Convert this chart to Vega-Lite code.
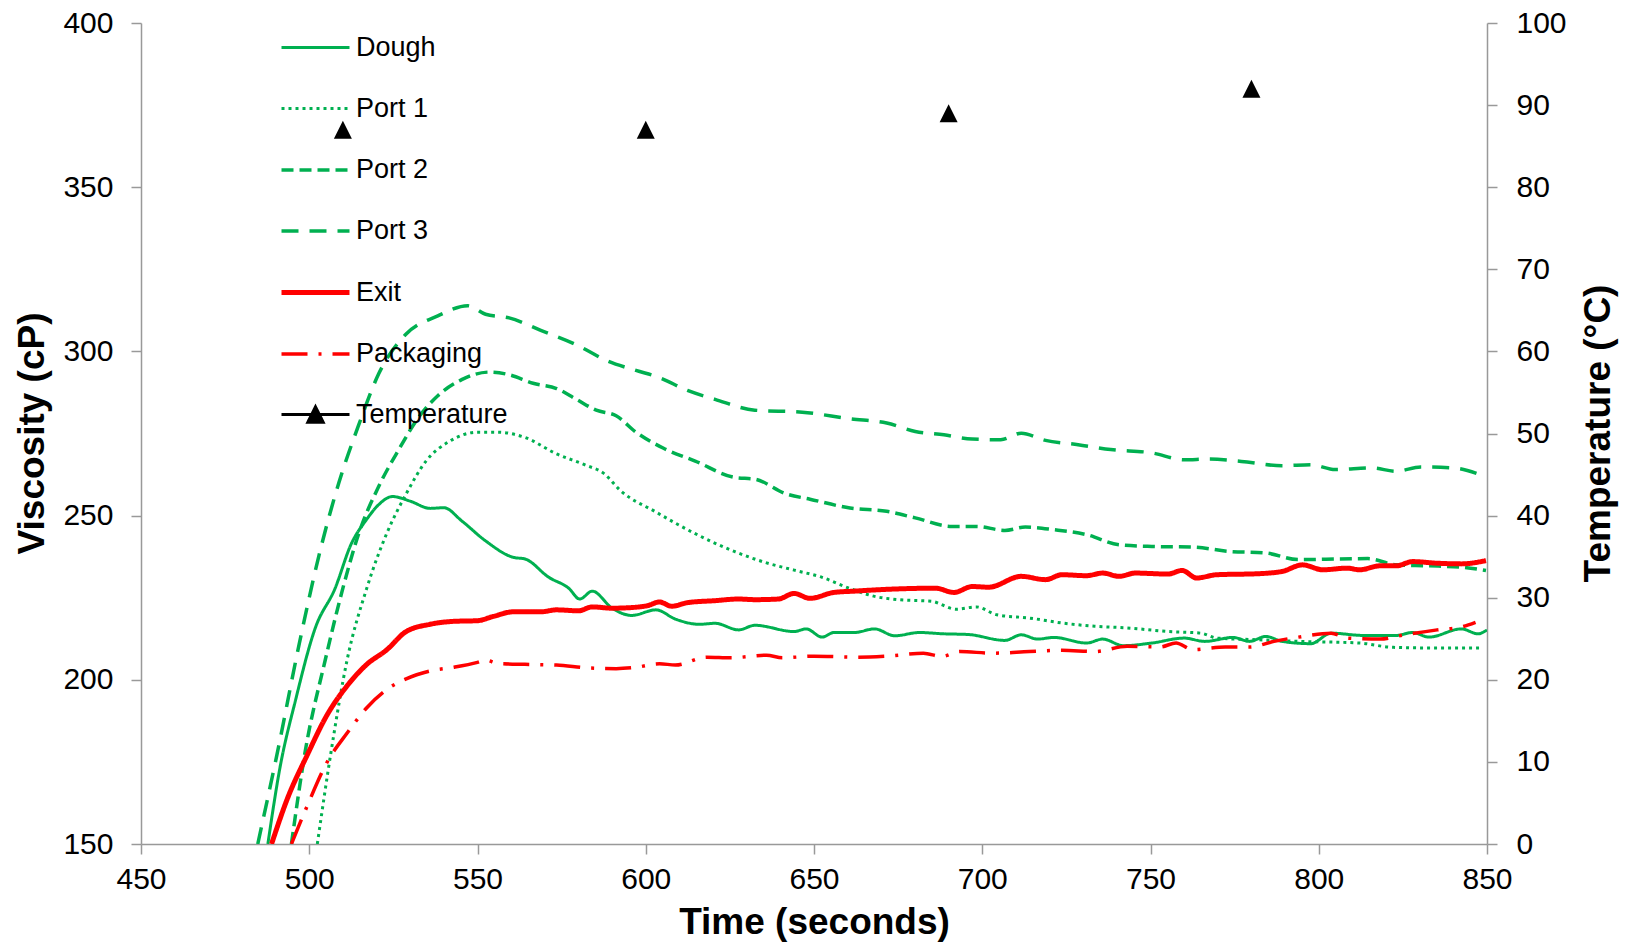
{
"$schema": "https://vega.github.io/schema/vega-lite/v6.json",
"width": 1346, "height": 821,
"autosize": "none",
"padding": {"left": 141, "top": 23, "right": 146, "bottom": 100},
"background": "white",
"config": {"view": {"stroke": null}, "font": "Liberation Sans",
  "axis": {"grid": false, "labelFlush": false, "labelOverlap": false, "domainColor": "#999999", "tickColor": "#999999", "labelColor": "#000000", "titleColor": "#000000", "labelFont": "Liberation Sans", "labelFontSize": 30, "titleFont": "Liberation Sans", "titleFontSize": 37, "titleFontWeight": "bold", "tickSize": 10, "domainWidth": 1.5, "tickWidth": 1.5}},
"datasets": {
"visc": [
{"s":"Dough","t":487.7,"v":150},{"s":"Dough","t":491.2,"v":172.7},{"s":"Dough","t":495.9,"v":193.7},{"s":"Dough","t":501.8,"v":215.8},{"s":"Dough","t":507.7,"v":227.9},{"s":"Dough","t":512.4,"v":241.2},{"s":"Dough","t":517.1,"v":248.9},{"s":"Dough","t":520.6,"v":253.3},{"s":"Dough","t":524.7,"v":255.8},{"s":"Dough","t":530,"v":254.4},{"s":"Dough","t":535.9,"v":252.2},{"s":"Dough","t":540,"v":252.4},{"s":"Dough","t":545.3,"v":248.4},{"s":"Dough","t":552.4,"v":242.3},{"s":"Dough","t":560.6,"v":237.3},{"s":"Dough","t":564.1,"v":236.8},{"s":"Dough","t":571.2,"v":231.2},{"s":"Dough","t":577.1,"v":227.9},{"s":"Dough","t":580.4,"v":224.6},{"s":"Dough","t":584.1,"v":227},{"s":"Dough","t":590,"v":221.8},{"s":"Dough","t":595.9,"v":219.6},{"s":"Dough","t":603,"v":221.3},{"s":"Dough","t":608.8,"v":218.5},{"s":"Dough","t":615.9,"v":216.9},{"s":"Dough","t":620.6,"v":217.2},{"s":"Dough","t":627.6,"v":215.2},{"s":"Dough","t":632.4,"v":216.6},{"s":"Dough","t":644.1,"v":214.7},{"s":"Dough","t":647.7,"v":215.5},{"s":"Dough","t":652.4,"v":213},{"s":"Dough","t":655.9,"v":214.4},{"s":"Dough","t":662,"v":214.4},{"s":"Dough","t":668,"v":215.5},{"s":"Dough","t":674,"v":213.4},{"s":"Dough","t":681.3,"v":214.4},{"s":"Dough","t":688.6,"v":214},{"s":"Dough","t":695.8,"v":213.8},{"s":"Dough","t":706.7,"v":212},{"s":"Dough","t":711.6,"v":213.7},{"s":"Dough","t":716.4,"v":212.4},{"s":"Dough","t":721.3,"v":212.9},{"s":"Dough","t":731,"v":211.2},{"s":"Dough","t":735.8,"v":212.4},{"s":"Dough","t":741.9,"v":210.4},{"s":"Dough","t":750.4,"v":211.2},{"s":"Dough","t":760,"v":212.7},{"s":"Dough","t":766.1,"v":211.7},{"s":"Dough","t":774.6,"v":212.9},{"s":"Dough","t":779.4,"v":211.7},{"s":"Dough","t":784.3,"v":213.2},{"s":"Dough","t":789.1,"v":211.7},{"s":"Dough","t":797.6,"v":211},{"s":"Dough","t":803.7,"v":214.2},{"s":"Dough","t":813.4,"v":213.5},{"s":"Dough","t":823,"v":213.5},{"s":"Dough","t":827.9,"v":214.4},{"s":"Dough","t":832.7,"v":213},{"s":"Dough","t":842.4,"v":215.5},{"s":"Dough","t":847.3,"v":214},{"s":"Dough","t":850,"v":215.2},
{"s":"Port 1","t":502.4,"v":150},{"s":"Port 1","t":506.5,"v":178.2},{"s":"Port 1","t":511.2,"v":205.8},{"s":"Port 1","t":517.1,"v":227.9},{"s":"Port 1","t":523,"v":244.5},{"s":"Port 1","t":528.8,"v":256.6},{"s":"Port 1","t":534.7,"v":266.6},{"s":"Port 1","t":541.8,"v":272.7},{"s":"Port 1","t":550,"v":275.4},{"s":"Port 1","t":555.9,"v":275.4},{"s":"Port 1","t":564.1,"v":273.8},{"s":"Port 1","t":573.5,"v":268.8},{"s":"Port 1","t":581.8,"v":265.5},{"s":"Port 1","t":587.7,"v":262.7},{"s":"Port 1","t":592.4,"v":257.7},{"s":"Port 1","t":603,"v":251.1},{"s":"Port 1","t":614.7,"v":244.5},{"s":"Port 1","t":626.5,"v":239},{"s":"Port 1","t":635.9,"v":235.6},{"s":"Port 1","t":644.1,"v":233.4},{"s":"Port 1","t":652.4,"v":231.2},{"s":"Port 1","t":660.7,"v":227.8},{"s":"Port 1","t":668,"v":225.4},{"s":"Port 1","t":675.2,"v":224.4},{"s":"Port 1","t":684.9,"v":223.9},{"s":"Port 1","t":692.2,"v":221.5},{"s":"Port 1","t":698.3,"v":222.2},{"s":"Port 1","t":704.3,"v":219.8},{"s":"Port 1","t":714,"v":218.8},{"s":"Port 1","t":723.7,"v":217.3},{"s":"Port 1","t":733.4,"v":216.3},{"s":"Port 1","t":743.1,"v":215.8},{"s":"Port 1","t":755.2,"v":214.7},{"s":"Port 1","t":764.9,"v":214.2},{"s":"Port 1","t":769.7,"v":212.7},{"s":"Port 1","t":781.9,"v":212.2},{"s":"Port 1","t":794,"v":211.7},{"s":"Port 1","t":812.1,"v":211.2},{"s":"Port 1","t":821.8,"v":209.9},{"s":"Port 1","t":832.7,"v":209.7},{"s":"Port 1","t":848.5,"v":209.7},
{"s":"Port 2","t":494.7,"v":150},{"s":"Port 2","t":498.8,"v":178.2},{"s":"Port 2","t":504.7,"v":205.8},{"s":"Port 2","t":510,"v":227.9},{"s":"Port 2","t":514.7,"v":244.5},{"s":"Port 2","t":520.6,"v":258.8},{"s":"Port 2","t":526.5,"v":269.9},{"s":"Port 2","t":532.4,"v":279.8},{"s":"Port 2","t":538.2,"v":286.5},{"s":"Port 2","t":545.3,"v":291.4},{"s":"Port 2","t":553.5,"v":293.7},{"s":"Port 2","t":559.4,"v":292.9},{"s":"Port 2","t":566.5,"v":290.3},{"s":"Port 2","t":573.5,"v":288.7},{"s":"Port 2","t":579.4,"v":285.4},{"s":"Port 2","t":585.3,"v":282.1},{"s":"Port 2","t":591.2,"v":280.4},{"s":"Port 2","t":597.1,"v":275.4},{"s":"Port 2","t":605.3,"v":270.5},{"s":"Port 2","t":614.7,"v":266.6},{"s":"Port 2","t":626.5,"v":261.6},{"s":"Port 2","t":632.4,"v":261.1},{"s":"Port 2","t":641.8,"v":256.6},{"s":"Port 2","t":648.8,"v":255},{"s":"Port 2","t":660.7,"v":252.3},{"s":"Port 2","t":671.6,"v":251.3},{"s":"Port 2","t":680.1,"v":249.3},{"s":"Port 2","t":691,"v":246.7},{"s":"Port 2","t":698.3,"v":246.7},{"s":"Port 2","t":706.7,"v":245.5},{"s":"Port 2","t":712.8,"v":246.5},{"s":"Port 2","t":721.3,"v":245.7},{"s":"Port 2","t":731,"v":244.2},{"s":"Port 2","t":740.7,"v":241.1},{"s":"Port 2","t":750.4,"v":240.6},{"s":"Port 2","t":762.5,"v":240.4},{"s":"Port 2","t":773.4,"v":239.1},{"s":"Port 2","t":784.3,"v":238.6},{"s":"Port 2","t":794,"v":236.6},{"s":"Port 2","t":806.1,"v":236.8},{"s":"Port 2","t":814.6,"v":236.9},{"s":"Port 2","t":823,"v":235},{"s":"Port 2","t":832.7,"v":234.7},{"s":"Port 2","t":842.4,"v":234.3},{"s":"Port 2","t":849.7,"v":233.3},
{"s":"Port 3","t":484.7,"v":150},{"s":"Port 3","t":490.6,"v":178.2},{"s":"Port 3","t":497.1,"v":211.3},{"s":"Port 3","t":502.9,"v":237.9},{"s":"Port 3","t":508.8,"v":260},{"s":"Port 3","t":514.7,"v":277.6},{"s":"Port 3","t":520.6,"v":293.1},{"s":"Port 3","t":528.8,"v":305.3},{"s":"Port 3","t":538.2,"v":310.8},{"s":"Port 3","t":547.1,"v":313.9},{"s":"Port 3","t":552.4,"v":311.3},{"s":"Port 3","t":559.4,"v":310.2},{"s":"Port 3","t":568.8,"v":306.4},{"s":"Port 3","t":579.4,"v":302},{"s":"Port 3","t":588.8,"v":297},{"s":"Port 3","t":597.1,"v":294.2},{"s":"Port 3","t":604.1,"v":292},{"s":"Port 3","t":612.4,"v":288.1},{"s":"Port 3","t":620.6,"v":285.4},{"s":"Port 3","t":632.4,"v":282.1},{"s":"Port 3","t":646.5,"v":281.5},{"s":"Port 3","t":660.7,"v":279.5},{"s":"Port 3","t":671.6,"v":278.2},{"s":"Port 3","t":680.1,"v":275.6},{"s":"Port 3","t":688.6,"v":274.6},{"s":"Port 3","t":697,"v":273.3},{"s":"Port 3","t":705.5,"v":273.1},{"s":"Port 3","t":711.6,"v":275.1},{"s":"Port 3","t":718.8,"v":272.9},{"s":"Port 3","t":728.5,"v":271.6},{"s":"Port 3","t":738.2,"v":270.1},{"s":"Port 3","t":750.4,"v":269.1},{"s":"Port 3","t":760,"v":267},{"s":"Port 3","t":767.3,"v":267.2},{"s":"Port 3","t":777,"v":266.5},{"s":"Port 3","t":789.1,"v":265.2},{"s":"Port 3","t":797.6,"v":265.5},{"s":"Port 3","t":804.9,"v":264},{"s":"Port 3","t":815.8,"v":264.5},{"s":"Port 3","t":823,"v":263.5},{"s":"Port 3","t":830.3,"v":264.8},{"s":"Port 3","t":840,"v":264.5},{"s":"Port 3","t":847.9,"v":262.5},
{"s":"Exit","t":488.8,"v":150},{"s":"Exit","t":493.5,"v":163.8},{"s":"Exit","t":499.4,"v":177.1},{"s":"Exit","t":505.3,"v":189.3},{"s":"Exit","t":511.2,"v":198.1},{"s":"Exit","t":517.1,"v":204.7},{"s":"Exit","t":523,"v":209.1},{"s":"Exit","t":528.8,"v":214.7},{"s":"Exit","t":535.9,"v":216.9},{"s":"Exit","t":542.9,"v":217.8},{"s":"Exit","t":550,"v":218},{"s":"Exit","t":554.7,"v":219.3},{"s":"Exit","t":560.6,"v":220.7},{"s":"Exit","t":568.8,"v":220.7},{"s":"Exit","t":573.5,"v":221.3},{"s":"Exit","t":580,"v":221},{"s":"Exit","t":584.1,"v":222.2},{"s":"Exit","t":590,"v":221.8},{"s":"Exit","t":597.1,"v":222.1},{"s":"Exit","t":600.6,"v":222.6},{"s":"Exit","t":604.1,"v":223.7},{"s":"Exit","t":607.7,"v":222.4},{"s":"Exit","t":612.4,"v":223.5},{"s":"Exit","t":620.6,"v":224.1},{"s":"Exit","t":627.6,"v":224.6},{"s":"Exit","t":632.4,"v":224.4},{"s":"Exit","t":639.4,"v":224.6},{"s":"Exit","t":644.1,"v":226.3},{"s":"Exit","t":648.8,"v":224.8},{"s":"Exit","t":655.9,"v":226.6},{"s":"Exit","t":662,"v":227},{"s":"Exit","t":672.8,"v":227.6},{"s":"Exit","t":686.1,"v":227.9},{"s":"Exit","t":691.6,"v":226.6},{"s":"Exit","t":697,"v":228.4},{"s":"Exit","t":701.9,"v":228.2},{"s":"Exit","t":711.6,"v":231.5},{"s":"Exit","t":718.8,"v":230.5},{"s":"Exit","t":723.7,"v":232},{"s":"Exit","t":731,"v":231.7},{"s":"Exit","t":735.8,"v":232.5},{"s":"Exit","t":740.7,"v":231.5},{"s":"Exit","t":745.5,"v":232.5},{"s":"Exit","t":755.2,"v":232.2},{"s":"Exit","t":759.4,"v":233.3},{"s":"Exit","t":763.7,"v":231},{"s":"Exit","t":769.7,"v":232},{"s":"Exit","t":781.9,"v":232.3},{"s":"Exit","t":789.1,"v":233},{"s":"Exit","t":795.2,"v":235},{"s":"Exit","t":801.2,"v":233.5},{"s":"Exit","t":808.5,"v":234},{"s":"Exit","t":812.1,"v":233.5},{"s":"Exit","t":818.2,"v":234.7},{"s":"Exit","t":823,"v":234.7},{"s":"Exit","t":827.9,"v":236},{"s":"Exit","t":835.2,"v":235.5},{"s":"Exit","t":842.4,"v":235.3},{"s":"Exit","t":849.7,"v":236.3},
{"s":"Packaging","t":494.7,"v":150},{"s":"Packaging","t":499.4,"v":161.6},{"s":"Packaging","t":505.3,"v":174.9},{"s":"Packaging","t":511.2,"v":183.7},{"s":"Packaging","t":517.1,"v":191.5},{"s":"Packaging","t":523,"v":197},{"s":"Packaging","t":528.8,"v":200.3},{"s":"Packaging","t":535.9,"v":202.7},{"s":"Packaging","t":542.9,"v":203.8},{"s":"Packaging","t":550,"v":205.3},{"s":"Packaging","t":552.4,"v":206},{"s":"Packaging","t":555.9,"v":205},{"s":"Packaging","t":564.1,"v":204.7},{"s":"Packaging","t":573.5,"v":204.5},{"s":"Packaging","t":582.9,"v":203.6},{"s":"Packaging","t":591.2,"v":203.4},{"s":"Packaging","t":597.1,"v":203.8},{"s":"Packaging","t":604.1,"v":204.9},{"s":"Packaging","t":608.8,"v":204.5},{"s":"Packaging","t":618.2,"v":206.9},{"s":"Packaging","t":625.3,"v":206.7},{"s":"Packaging","t":635.9,"v":207.5},{"s":"Packaging","t":640.6,"v":206.7},{"s":"Packaging","t":650,"v":207.2},{"s":"Packaging","t":663,"v":206.9},{"s":"Packaging","t":672.8,"v":207.3},{"s":"Packaging","t":682.5,"v":208.1},{"s":"Packaging","t":688,"v":207.1},{"s":"Packaging","t":693.4,"v":208.6},{"s":"Packaging","t":703.1,"v":208.1},{"s":"Packaging","t":714,"v":208.6},{"s":"Packaging","t":723.7,"v":209},{"s":"Packaging","t":733.4,"v":208.6},{"s":"Packaging","t":743.1,"v":210.2},{"s":"Packaging","t":752.8,"v":210},{"s":"Packaging","t":757.6,"v":211.2},{"s":"Packaging","t":762.5,"v":209.2},{"s":"Packaging","t":772.2,"v":210},{"s":"Packaging","t":779.4,"v":210},{"s":"Packaging","t":786.7,"v":211.7},{"s":"Packaging","t":794,"v":213},{"s":"Packaging","t":803.7,"v":214.2},{"s":"Packaging","t":808.5,"v":212.7},{"s":"Packaging","t":818.2,"v":212.4},{"s":"Packaging","t":825.5,"v":213.7},{"s":"Packaging","t":835.2,"v":215.2},{"s":"Packaging","t":842.4,"v":216.1},{"s":"Packaging","t":846.6,"v":217.5}
],
"temp": [{"t":510,"temp":87},{"t":600,"temp":87},{"t":690,"temp":89},{"t":780,"temp":92}]
},
"layer": [
{"data": {"name": "visc"},
 "mark": {"type": "line", "interpolate": "monotone", "clip": true},
 "encoding": {
  "x": {"field": "t", "type": "quantitative", "scale": {"domain": [450, 850], "nice": false, "zero": false},
        "axis": {"values": [450,500,550,600,650,700,750,800,850], "title": "Time (seconds)", "labelBaseline": "alphabetic", "labelPadding": 34, "titleBaseline": "alphabetic", "titleY": 89}},
  "y": {"field": "v", "type": "quantitative", "scale": {"domain": [150, 400], "nice": false, "zero": false},
        "axis": {"values": [150,200,250,300,350,400], "title": "Viscosity (cP)", "labelPadding": 18, "titleAngle": 270, "titleBaseline": "alphabetic", "titleX": -98, "titleY": 410}},
  "color": {"field": "s", "type": "nominal",
     "scale": {"domain": ["Dough","Port 1","Port 2","Port 3","Exit","Packaging","Temperature"], "range": ["#00B050","#00B050","#00B050","#00B050","#FF0000","#FF0000","#000000"]},
     "legend": {"orient": "none", "legendX": 155, "legendY": 6, "title": null, "padding": 0, "symbolType": "M-2,0H2", "symbolSize": 1156, "labelFont": "Liberation Sans", "labelFontSize": 27, "labelColor": "#000000", "rowPadding": 29, "labelOffset": 21,
       "encode": {"symbols": {"update": {"shape": {"signal": "datum.value === 'Temperature' ? 'M-2,0H2M0,-0.45L-0.45,0.45L0.45,0.45Z' : 'M-2,0H2'"}, "fill": {"signal": "datum.value === 'Temperature' ? '#000000' : 'transparent'"}}}}}},
  "strokeDash": {"field": "s", "type": "nominal",
     "scale": {"domain": ["Dough","Port 1","Port 2","Port 3","Exit","Packaging","Temperature"], "range": [[1,0],[3,4],[12,6],[17,11],[1,0],[26,11,3,11],[1,0]]}},
  "strokeWidth": {"field": "s", "type": "nominal",
     "scale": {"type": "ordinal", "domain": ["Dough","Port 1","Port 2","Port 3","Exit","Packaging","Temperature"], "range": [3,3,3.5,3.5,5,3.5,3]}}
 }},
{"data": {"name": "temp"},
 "mark": {"type": "point", "shape": "M0,-1L-1,1L1,1Z", "size": 324, "filled": true, "color": "#000000", "opacity": 1},
 "encoding": {
  "x": {"field": "t", "type": "quantitative", "scale": {"domain": [450, 850], "nice": false, "zero": false}},
  "y": {"field": "temp", "type": "quantitative", "scale": {"domain": [0, 100], "nice": false, "zero": false},
        "axis": {"orient": "right", "values": [0,10,20,30,40,50,60,70,80,90,100], "title": "Temperature (°C)", "labelPadding": 19, "titleAngle": 270, "titleBaseline": "alphabetic", "titleX": 122, "titleY": 410}}
 }}
],
"resolve": {"scale": {"y": "independent"}}
}
